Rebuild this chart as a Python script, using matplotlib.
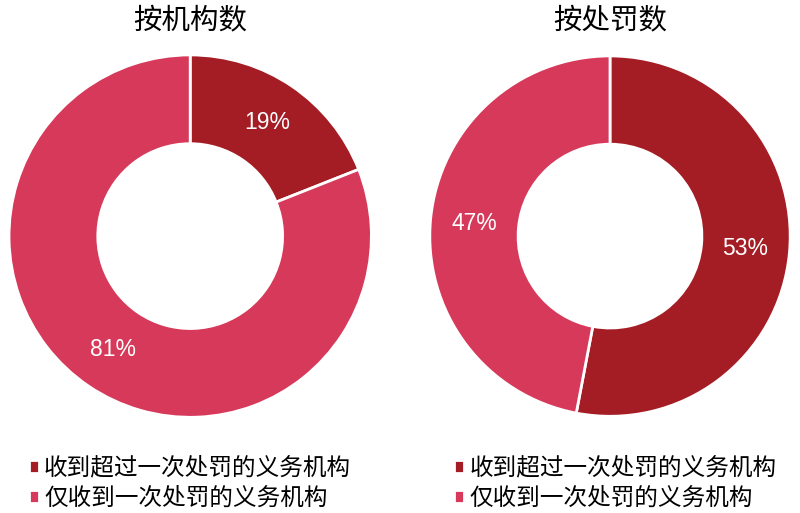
import matplotlib
matplotlib.use('Agg')
import matplotlib.pyplot as plt

plt.rcParams['font.family'] = ['Noto Sans CJK SC', 'DejaVu Sans']

titles = ['按机构数', '按处罚数']
labels = ['收到超过一次处罚的义务机构', '仅收到一次处罚的义务机构']
by_org = [19, 81]
by_penalty = [53, 47]
colors = ['#A51D24', '#D6395A']

fig = plt.figure(figsize=(8, 5.13), dpi=100)

boxes = [[0.009, 0.183, 0.4575, 0.7135], [0.535, 0.185, 0.455, 0.7095]]
legend_x = [0.024, 0.5555]

for box, title, values, lx in zip(boxes, titles, [by_org, by_penalty], legend_x):
    ax = fig.add_axes(box)
    wedges, texts, autotexts = ax.pie(
        values, colors=colors, startangle=90, counterclock=False,
        autopct=lambda p: '%d%%' % round(p), pctdistance=0.755,
        wedgeprops=dict(width=0.49, edgecolor='white', linewidth=2),
        textprops=dict(color='white', fontsize=16.5, family=['Liberation Sans', 'DejaVu Sans']))
    ax.set_xlim(-1.01, 1.01)
    ax.set_ylim(-1.01, 1.01)
    ax.set_aspect('equal')
    fig.text(box[0] + box[2] / 2, 0.96, title, ha='center', va='center', fontsize=20.5)
    fig.legend(wedges, labels, loc='upper left', bbox_to_anchor=(lx, 0.128),
               frameon=False, fontsize=17, handlelength=0.45, handleheight=0.45,
               handletextpad=0.2, labelspacing=0.3, borderaxespad=0)

fig.savefig('out.png', dpi=100)
